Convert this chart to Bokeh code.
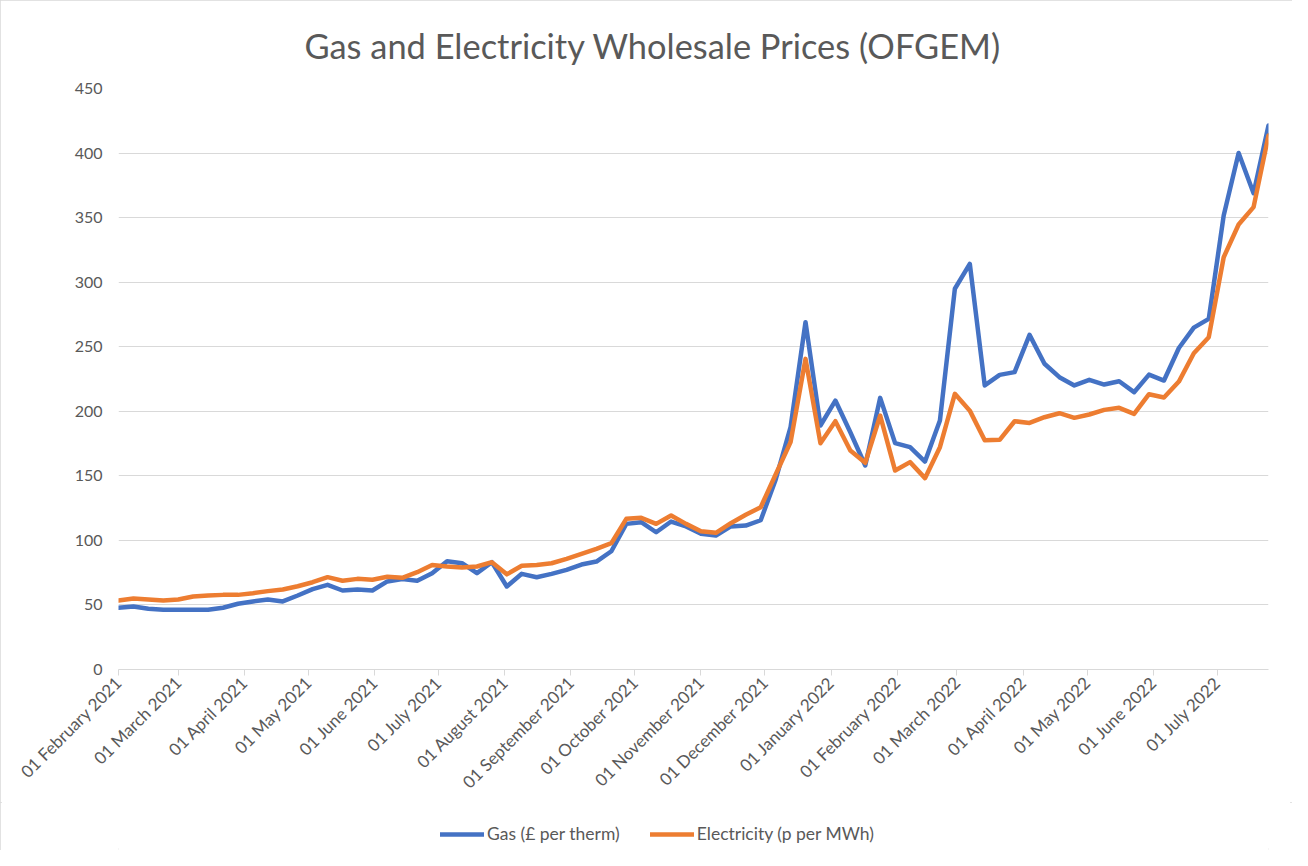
import pandas as pd
from bokeh.plotting import figure
from bokeh.layouts import column
from bokeh.models import (Range1d, FixedTicker, DatetimeTickFormatter, Legend,
                          LegendItem, ColumnDataSource)
from bokeh.embed import file_html
from bokeh.resources import INLINE

title_text = "Gas and Electricity Wholesale Prices (OFGEM)"
first_week = "2021-02-01"
n_weeks = 78
gas_label = "Gas (£ per therm)"
elec_label = "Electricity (p per MWh)"

gas = [47.8, 48.8, 47.0, 46.2, 46.2, 46.2, 46.2, 47.8, 50.9, 52.7,
       54.2, 52.7, 57.3, 62.2, 65.6, 61.2, 62.0, 61.2, 68.2, 70.0,
       68.7, 74.6, 83.9, 82.3, 74.6, 83.1, 64.3, 74.1, 71.5, 74.1,
       77.2, 81.3, 83.6, 91.6, 112.8, 114.1, 106.3, 114.6, 110.8, 105.1,
       103.8, 110.8, 111.5, 115.6, 147.0, 187.7, 269.0, 189.0, 208.3, 183.8,
       158.0, 210.4, 175.3, 172.2, 161.1, 192.9, 294.9, 314.2, 220.0, 228.2,
       230.3, 259.2, 236.8, 226.4, 220.0, 224.4, 220.7, 223.3, 214.8, 228.4,
       223.8, 249.0, 264.8, 271.6, 351.6, 400.0, 368.9, 421.3]

electricity = [53.4, 55.0, 54.2, 53.4, 54.2, 56.5, 57.3, 57.8, 57.8, 59.1,
               60.7, 62.0, 64.5, 67.6, 71.5, 68.7, 70.2, 69.5, 71.8, 71.0,
               75.4, 81.0, 79.8, 79.0, 79.8, 83.1, 73.7, 80.3, 81.0, 82.3,
               85.7, 89.6, 93.5, 97.8, 116.7, 117.5, 112.8, 119.3, 112.8, 107.1,
               105.9, 113.3, 119.8, 125.7, 151.0, 176.1, 240.6, 175.3, 192.3, 169.6,
               160.1, 196.7, 154.1, 160.6, 148.2, 172.2, 213.5, 200.5, 177.6, 177.9,
               192.3, 191.0, 195.4, 198.5, 194.9, 197.5, 201.1, 202.7, 198.0, 213.2,
               210.7, 223.0, 245.0, 257.4, 319.3, 344.7, 358.1, 413.6]

month_ticks = ["2021-02-01", "2021-03-01", "2021-04-01", "2021-05-01", "2021-06-01",
               "2021-07-01", "2021-08-01", "2021-09-01", "2021-10-01", "2021-11-01",
               "2021-12-01", "2022-01-01", "2022-02-01", "2022-03-01", "2022-04-01",
               "2022-05-01", "2022-06-01", "2022-07-01"]
y_ticks = [0, 50, 100, 150, 200, 250, 300, 350, 400, 450]

dates = pd.date_range(first_week, periods=n_weeks, freq="7D")
src = ColumnDataSource(dict(date=dates, gas=gas, elec=electricity))

TEXT = "#595959"
GRID = "#d9d9d9"
FONT = "Lato"
BLUE = "#4472C4"
ORANGE = "#ED7D31"

p = figure(width=1292, height=802, x_axis_type="datetime",
           output_backend="svg", toolbar_location=None,
           x_range=Range1d(dates[0], dates[-1]),
           y_range=Range1d(0, 450),
           min_border_left=118, min_border_right=24,
           min_border_top=88, min_border_bottom=126)
p.outline_line_color = None
p.background_fill_color = "white"
p.border_fill_color = "white"

p.title.text = title_text
p.title.align = "left"
p.title.offset = 186
p.title.text_font = FONT
p.title.text_font_size = "34.4px"
p.title.text_font_style = "normal"
p.title.text_color = TEXT
p.title.standoff = 45

p.line("date", "gas", source=src, line_color=BLUE, line_width=4.5,
       line_join="round", line_cap="round")
p.line("date", "elec", source=src, line_color=ORANGE, line_width=4.5,
       line_join="round", line_cap="round")

tick_ms = [pd.Timestamp(t).value / 1e6 for t in month_ticks]
xa = p.xaxis[0]
xa.ticker = FixedTicker(ticks=tick_ms)
fmt = "%d %B %Y"
xa.formatter = DatetimeTickFormatter(milliseconds=fmt, seconds=fmt, minsec=fmt,
                                     minutes=fmt, hourmin=fmt, hours=fmt, days=fmt,
                                     months=fmt, years=fmt)
xa.major_label_orientation = 0.785398
xa.major_label_text_font = FONT
xa.major_label_text_font_size = "17px"
xa.major_label_text_color = TEXT
xa.major_label_standoff = 4
xa.axis_line_color = GRID
xa.axis_line_width = 1
xa.major_tick_line_color = GRID
xa.major_tick_out = 6
xa.major_tick_in = 0
xa.minor_tick_line_color = None

ya = p.yaxis[0]
ya.ticker = FixedTicker(ticks=y_ticks)
ya.axis_line_color = None
ya.major_tick_line_color = None
ya.minor_tick_line_color = None
ya.major_tick_out = 0
ya.major_tick_in = 0
ya.major_label_standoff = 16
ya.major_label_text_font = FONT
ya.major_label_text_font_size = "16px"
ya.major_label_text_color = TEXT

p.xgrid.grid_line_color = None
p.ygrid.ticker = FixedTicker(ticks=y_ticks)
p.ygrid.grid_line_color = GRID
p.ygrid.grid_line_width = 1

# legend strip below the chart
lf = figure(width=1292, height=48, output_backend="svg", toolbar_location=None,
            x_axis_location=None, y_axis_location=None,
            x_range=Range1d(0, 1), y_range=Range1d(0, 1),
            min_border=0)
lf.outline_line_color = None
lf.xgrid.grid_line_color = None
lf.ygrid.grid_line_color = None
lf.background_fill_color = "white"
lf.border_fill_color = "white"
lg_gas = lf.line(x=[5, 6], y=[5, 6], line_color=BLUE, line_width=4.5, line_cap="round")
lg_el = lf.line(x=[5, 6], y=[5, 6], line_color=ORANGE, line_width=4.5, line_cap="round")
legend = Legend(items=[LegendItem(label=gas_label, renderers=[lg_gas]),
                       LegendItem(label=elec_label, renderers=[lg_el])],
                orientation="horizontal", location=(322, 6),
                border_line_color=None, background_fill_alpha=0,
                label_text_font=FONT, label_text_font_size="17.5px",
                label_text_color=TEXT, glyph_width=44, label_standoff=3,
                spacing=30, padding=0, margin=0)
lf.add_layout(legend, "center")

layout = column(p, lf, spacing=0,
                styles={"outline": "2px solid #d9d9d9", "outline-offset": "-2px"})

open("out.html", "w").write(file_html(layout, INLINE))
